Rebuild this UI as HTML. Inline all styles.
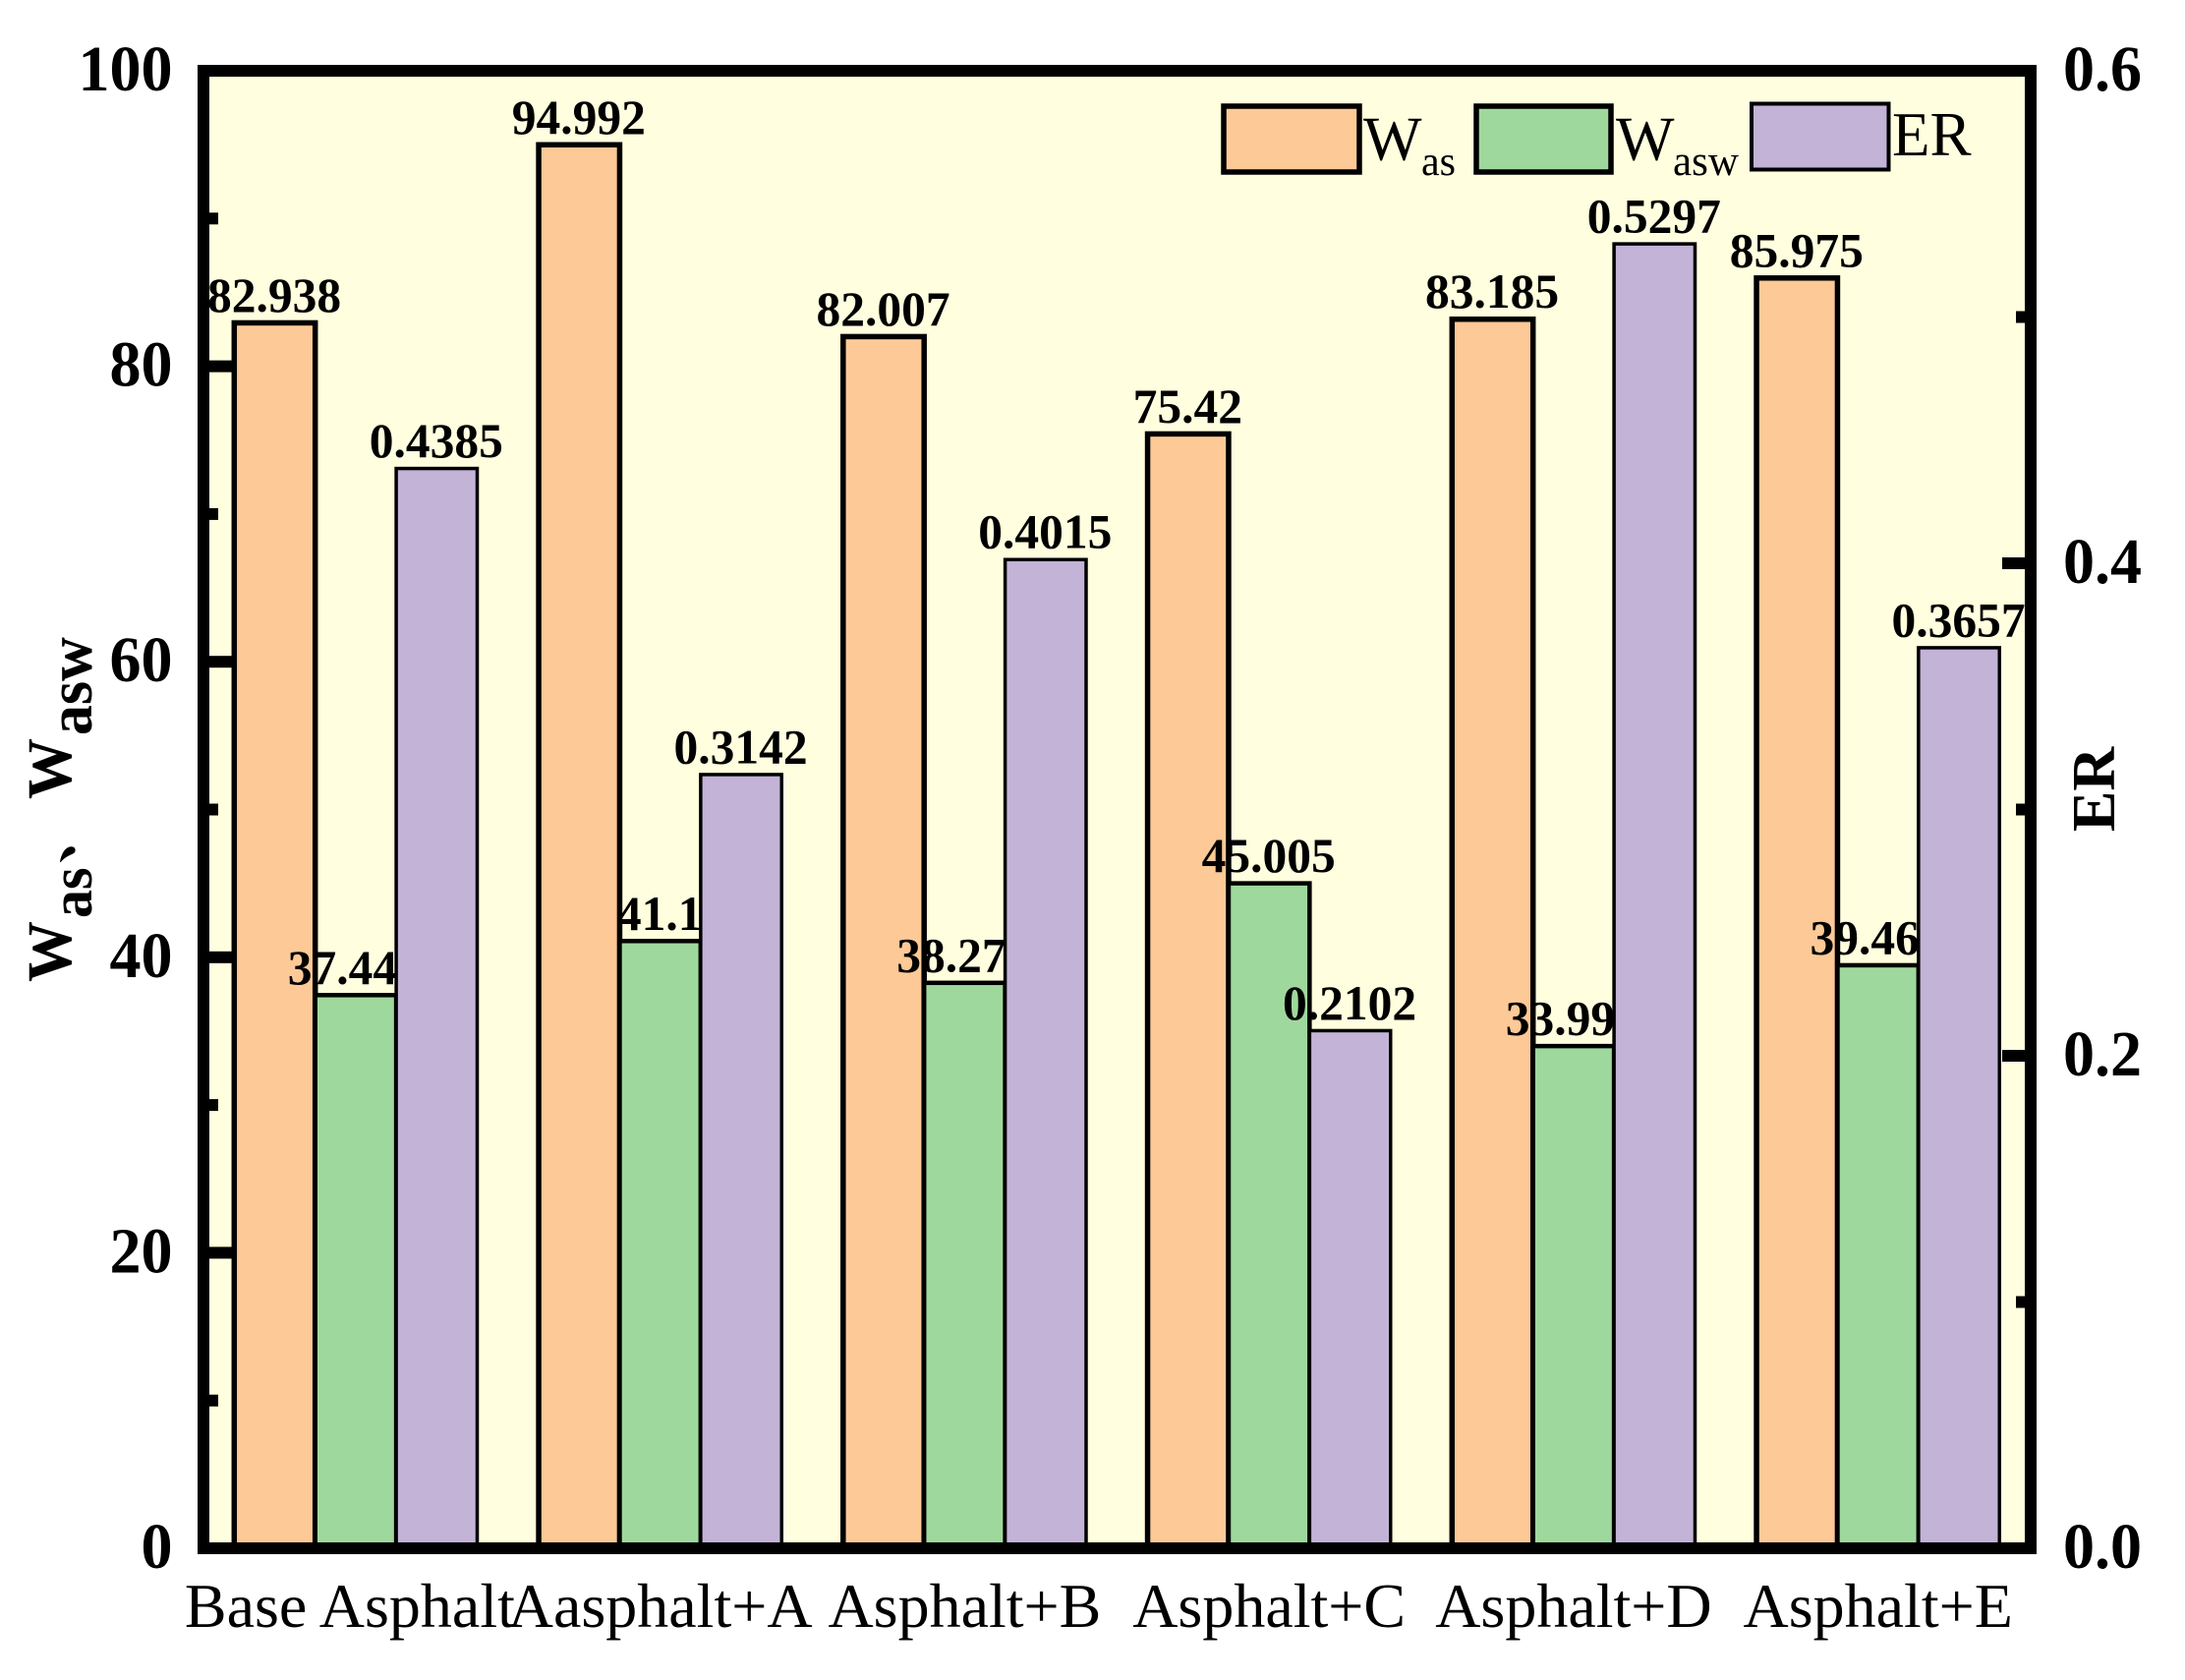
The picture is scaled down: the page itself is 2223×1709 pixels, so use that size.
<!DOCTYPE html>
<html lang="en">
<head>
<meta charset="utf-8">
<title>Asphalt Was, Wasw and ER bar chart</title>
<style>
html,body{margin:0;padding:0;background:#fff;width:2223px;height:1709px;overflow:hidden}
svg{display:block}
text{font-family:"Liberation Serif","Noto Serif CJK SC",serif;fill:#000}
</style>
</head>
<body>
<svg id="chart" xmlns="http://www.w3.org/2000/svg" width="2223" height="1709" viewBox="0 0 2223 1709">
  <rect x="0" y="0" width="2223" height="1709" fill="#ffffff"/>
  <rect x="207" y="72" width="1859" height="1503" fill="#FFFEDF"/>
  <g id="ticks"></g>
  <g id="bars"></g>
  <g id="value-labels"></g>
  <rect x="207" y="72" width="1859" height="1503" fill="none" stroke="#000" stroke-width="12"/>
  <g id="tick-labels"></g>
  <g id="category-labels"></g>

  <g transform="translate(72,999) rotate(-90) scale(1,1.04)" font-weight="bold">
    <text x="0" y="0" font-size="62" font-weight="bold">W</text>
    <text x="65" y="20" font-size="58" font-weight="bold">as</text>
    <text x="120" y="0" font-size="58" font-weight="bold">、</text>
    <text x="186" y="0" font-size="62" font-weight="bold">W</text>
    <text x="251" y="20" font-size="62" font-weight="bold">asw</text>
  </g>
  <text transform="translate(2151,846) rotate(-90)" font-size="62" font-weight="bold">ER</text>

  <g>
    <g>
      <rect x="1245" y="108" width="138" height="67" fill="#FCC997" stroke="#000" stroke-width="5.500"/>
      <text x="1387" y="162.500" font-size="63">W</text>
      <text x="1446" y="178" font-size="42">as</text>
    </g>
    <g>
      <rect x="1502" y="108" width="137" height="67" fill="#9FD89D" stroke="#000" stroke-width="5.500"/>
      <text x="1644" y="162.500" font-size="63">W</text>
      <text x="1702" y="178" font-size="43">asw</text>
    </g>
    <g>
      <rect x="1782" y="105.500" width="139.500" height="67" fill="#C2B3D7" stroke="#000" stroke-width="4"/>
      <text x="1925" y="158" font-size="63">ER</text>
    </g>
  </g>
</svg>
<script>
const categories = ['Base Asphalt', 'Aasphalt+A', 'Asphalt+B', 'Asphalt+C', 'Asphalt+D', 'Asphalt+E'];
const wasValues = [82.938, 94.992, 82.007, 75.42, 83.185, 85.975];
const waswValues = [37.44, 41.1, 38.27, 45.005, 33.99, 39.46];
const erValues = [0.4385, 0.3142, 0.4015, 0.2102, 0.5297, 0.3657];
const leftMajorTicks = [0, 20, 40, 60, 80, 100];
const leftMinorTicks = [10, 30, 50, 70, 90];
const rightMajorTicks = [0, 0.2, 0.4, 0.6];
const rightMinorTicks = [0.1, 0.3, 0.5];

const NS = 'http://www.w3.org/2000/svg';
const yLeft = v => 1575 - v * 15.03;
const yRight = v => 1575 - v * (1503 / 0.6);
const groupX = i => 238.3 + i * 309.75;
const BAR_W = 82.4;

function make(tag, parent, attrs, txt) {
  const el = document.createElementNS(NS, tag);
  for (const k in attrs) el.setAttribute(k, attrs[k]);
  if (txt !== undefined) el.textContent = txt;
  parent.appendChild(el);
  return el;
}

const ticksG = document.getElementById('ticks');
const barsG = document.getElementById('bars');
const valuesG = document.getElementById('value-labels');
const tickLabelsG = document.getElementById('tick-labels');
const catG = document.getElementById('category-labels');

leftMajorTicks.forEach(v => {
  const t = make('rect', ticksG, {x: 207, y: yLeft(v) - 6, width: 30, height: 12, fill: '#000'});
  
  
  const l = make('text', tickLabelsG, {transform: 'translate(175.500,' + (yLeft(v) + 20) + ') scale(0.97,1)', 'font-size': 66, 'font-weight': 'bold', 'text-anchor': 'end'}, String(v));
  
  
});
leftMinorTicks.forEach(v => {
  const t = make('rect', ticksG, {x: 207, y: yLeft(v) - 6, width: 15, height: 12, fill: '#000'});
  
  
});
rightMajorTicks.forEach(v => {
  const t = make('rect', ticksG, {x: 2037, y: yRight(v) - 6, width: 29, height: 12, fill: '#000'});
  
  
  const l = make('text', tickLabelsG, {transform: 'translate(2099,' + (yRight(v) + 20) + ') scale(0.97,1)', 'font-size': 66, 'font-weight': 'bold'}, v.toFixed(1));
  
  
});
rightMinorTicks.forEach(v => {
  const t = make('rect', ticksG, {x: 2051, y: yRight(v) - 6, width: 15, height: 12, fill: '#000'});
  
  
});

function drawSeries(values, yFn, offset, color, sw, name) {
  values.forEach((v, i) => {
    const x = groupX(i) + offset * BAR_W;
    const top = yFn(v);
    const r = make('rect', barsG, {x: x, y: top, width: BAR_W, height: 1575 - top, fill: color, stroke: '#000', 'stroke-width': sw});
    
    
    // two-decimal Wasw labels were printed with a hidden trailing zero, so they sit left of centre
    const label = String(v);
    const shift = (name === 'wasw' && label.length === 5) ? -13 : 0;
    const t = make('text', valuesG, {x: x + BAR_W / 2 + shift - 0.5, y: top - 11.500, 'font-size': 49.500, 'font-weight': 'bold', 'text-anchor': 'middle'}, label);
    
    
  });
}
drawSeries(wasValues, yLeft, 0, '#FCC997', 5.500, 'was');
drawSeries(waswValues, yLeft, 1, '#9FD89D', 4.500, 'wasw');
drawSeries(erValues, yRight, 2, '#C2B3D7', 3.500, 'er');

categories.forEach((c, i) => {
  const nudge = i === 0 ? -6 : 0;
  const t = make('text', catG, {x: groupX(i) + BAR_W * 1.5 + nudge, y: 1655, 'font-size': 64, 'text-anchor': 'middle'}, c);
  
  
});
</script>
</body>
</html>
